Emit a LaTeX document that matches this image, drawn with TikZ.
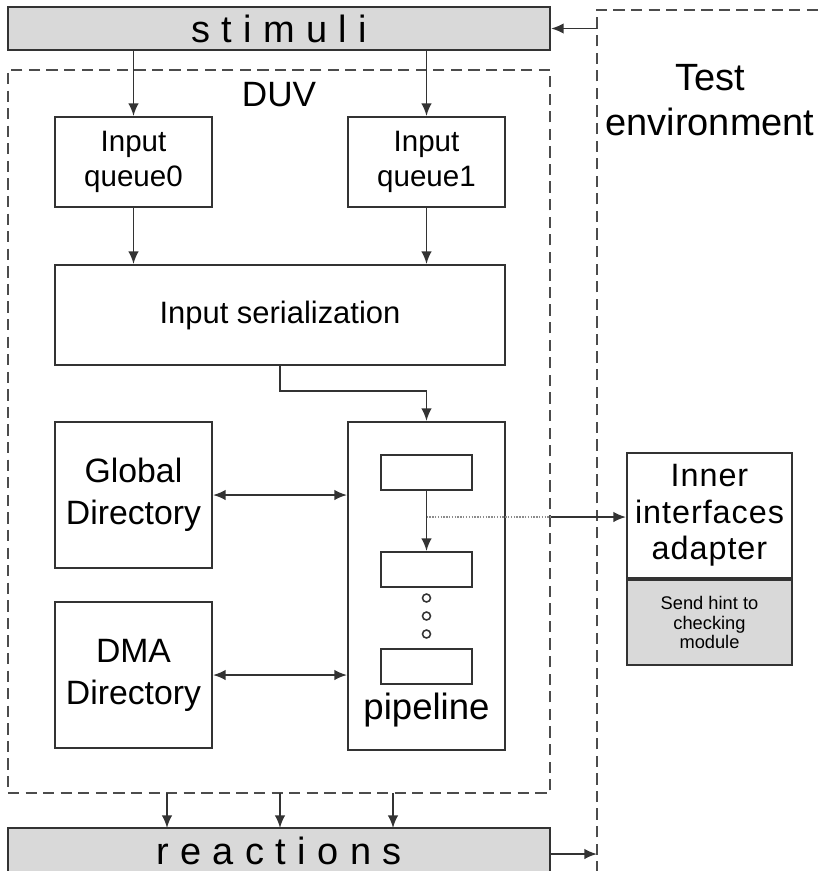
\documentclass[tikz,border=0pt]{standalone}
\usepackage{fontspec}
\setmainfont{Liberation Sans}
\usetikzlibrary{arrows.meta, positioning, calc}

\tikzset{
  blk/.style={draw=black!80, line width=1.4pt, align=center, inner sep=0pt},
  bar/.style={blk, fill=black!15, minimum width=13.55cm,
    font=\fontsize{27}{32}\selectfont\addfontfeature{LetterSpace=30}},
  unit/.style={blk, minimum width=3.925cm},
  stage/.style={blk, minimum width=2.275cm, minimum height=0.875cm},
  arr/.style={-{Latex[length=9pt, width=7.5pt]}, draw=black!80, line width=1.3pt},
  darr/.style={{Latex[length=9pt, width=7.5pt]}-{Latex[length=9pt, width=7.5pt]}, draw=black!80, line width=1.3pt},
  frame/.style={draw=black!70, line width=1.3pt, dash pattern=on 8pt off 4.5pt},
}

\begin{document}
\begin{tikzpicture}[x=0.025cm, y=-0.025cm]
  \useasboundingbox (0,0) rectangle (818,871);

  % stimuli and reactions
  \node[bar, minimum height=1.075cm] (stimuli) at (279,28.5) {stimuli};
  \node[bar, minimum height=1.3cm] (reactions) at (279,854) {\raisebox{4pt}{reactions}};

  % DUV
  \node[frame, minimum width=13.55cm, minimum height=18.075cm] (duv) at (279,431.5) {};
  \node[font=\fontsize{25}{30}\selectfont] (duvlabel) at (279,95) {DUV};

  \node[unit, minimum height=2.25cm, font=\fontsize{21}{25}\selectfont] (queue0) at (133.5,162) {Input\\queue0};
  \node[unit, minimum height=2.25cm, font=\fontsize{21}{25}\selectfont] (queue1) at (426.5,162) {Input\\queue1};
  \node[blk, minimum width=11.25cm, minimum height=2.5cm, font=\fontsize{22}{26}\selectfont] (serial) at (280,315) {Input serialization};

  \node[unit, minimum height=3.65cm, font=\fontsize{24}{30}\selectfont] (global) at (133.5,495) {Global\\Directory};
  \node[unit, minimum height=3.65cm, font=\fontsize{24}{30}\selectfont] (dma) at (133.5,675) {DMA\\Directory};

  \node[unit, minimum height=8.2cm] (pipeline) at (426.5,586) {};
  \node[font=\fontsize{26}{30}\selectfont] (plabel) at (426.5,710) {pipeline};
  \node[stage] (stage1) at (426.5,472.5) {};
  \node[stage] (stage2) at (426.5,569.5) {};
  \node[stage] (stage3) at (426.5,666.5) {};
  \foreach \i/\y in {1/598, 2/616, 3/634}
    \node[circle, draw=black!80, line width=1.1pt, inner sep=0pt, minimum size=0.2cm] (dot\i) at (426.5,\y) {};

  % test environment
  \coordinate (envcorner) at (597,10);
  \coordinate (envin) at (597,28.5);
  \coordinate (envout) at (597,854);
  \draw[frame] (597,890) -- (envcorner) -- (830,10);
  \node[font=\fontsize{27}{32}\selectfont, align=center] (envlabel) at (710,100) {Test\\environment};

  \node[blk, minimum width=4.125cm, minimum height=3.125cm, font=\fontsize{23}{26}\selectfont\addfontfeature{LetterSpace=3}] (adapter) at (709.5,515.5) {Inner\\interfaces\\adapter};
  \node[blk, fill=black!15, minimum width=4.125cm, minimum height=2.125cm, anchor=north, font=\fontsize{13}{14}\selectfont] (hint) at (adapter.south) {Send hint to\\checking\\module};

  % connections
  \draw[arr] (envin) -- (stimuli.east);
  \draw[arr] (stimuli.south -| queue0.north) -- (queue0.north);
  \draw[arr] (stimuli.south -| queue1.north) -- (queue1.north);
  \draw[arr] (queue0) -- (queue0 |- serial.north);
  \draw[arr] (queue1) -- (queue1 |- serial.north);
  \draw[arr] (serial.south) -- ++(0,25) -| (pipeline.north);
  \draw[arr] (stage1) -- (stage2);
  \draw[darr] (global.east) -- (global.east -| pipeline.west);
  \draw[darr] (dma.east) -- (dma.east -| pipeline.west);

  \coordinate (tap) at (426.5,517);
  \draw[black!45, line width=1pt, densely dotted] (tap) -- (tap -| duv.east);
  \draw[arr] (tap -| duv.east) -- (tap -| adapter.west);

  \foreach \x in {167, 280, 393}
    \draw[arr] (\x,793) -- (\x,828);
  \draw[arr] (reactions.east |- envout) -- (envout);
\end{tikzpicture}
\end{document}
